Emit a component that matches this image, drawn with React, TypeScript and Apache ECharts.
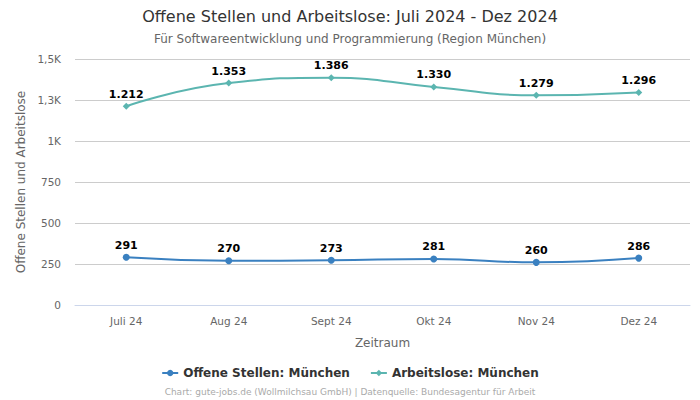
import React, { useEffect, useRef } from "react";
import * as echarts from "echarts";

const categories = ["Juli 24", "Aug 24", "Sept 24", "Okt 24", "Nov 24", "Dez 24"];
const offeneStellen = [291, 270, 273, 281, 260, 286];
const arbeitslose = [1212, 1353, 1386, 1330, 1279, 1296];
const yTicks = { min: 0, max: 1500, interval: 250 };

const FONT = "DejaVu Sans";

function fmtAxis(v: number): string {
  if (v >= 1000) {
    const k = Math.round((v / 1000) * 10) / 10;
    return String(k).replace(".", ",") + "K";
  }
  return String(v);
}

function fmtLabel(v: number): string {
  return v.toString().replace(/\B(?=(\d{3})+(?!\d))/g, ".");
}

export default function App() {
  const ref = useRef<HTMLDivElement>(null);
  useEffect(() => {
    if (!ref.current) return;
    const chart = echarts.init(ref.current, null, { renderer: "svg" });
    chart.setOption({
      animation: false,
      textStyle: { fontFamily: FONT },
      title: [
        {
          text: "Offene Stellen und Arbeitslose: Juli 2024 - Dez 2024",
          left: "center",
          top: 3,
          textStyle: { fontFamily: FONT, fontSize: 16, fontWeight: "normal", color: "#333" },
        },
        {
          text: "Für Softwareentwicklung und Programmierung (Region München)",
          left: "center",
          top: 28,
          textStyle: { fontFamily: FONT, fontSize: 12, fontWeight: "normal", color: "#666" },
        },
        {
          text: "Chart: gute-jobs.de (Wollmilchsau GmbH) | Datenquelle: Bundesagentur für Arbeit",
          left: "center",
          top: 381,
          textStyle: { fontFamily: FONT, fontSize: 9, fontWeight: "normal", color: "#aaa", lineHeight: 11 },
        },
      ],
      legend: {
        top: 362,
        left: "center",
        itemGap: 20,
        itemWidth: 16,
        itemHeight: 8,
        textStyle: { fontFamily: FONT, fontSize: 12, fontWeight: "bold", color: "#333" },
        data: ["Offene Stellen: München", "Arbeitslose: München"],
      },
      grid: { left: 75, right: 10, top: 59, bottom: 95, containLabel: false },
      xAxis: {
        type: "category",
        data: categories,
        boundaryGap: true,
        name: "Zeitraum",
        nameLocation: "middle",
        nameGap: 32,
        nameTextStyle: { fontFamily: FONT, fontSize: 12, color: "#666" },
        axisLine: { lineStyle: { color: "#ccd6eb" } },
        axisTick: { show: false },
        axisLabel: { fontFamily: FONT, fontSize: 10.5, color: "#666", margin: 10 },
      },
      yAxis: {
        type: "value",
        min: yTicks.min,
        max: yTicks.max,
        interval: yTicks.interval,
        name: "Offene Stellen und Arbeitslose",
        nameLocation: "middle",
        nameGap: 46,
        nameTextStyle: { fontFamily: FONT, fontSize: 12, color: "#666" },
        axisLine: { show: false },
        axisTick: { show: false },
        splitLine: { lineStyle: { color: "#cccccc" } },
        axisLabel: { fontFamily: FONT, fontSize: 10.5, color: "#666", margin: 14, formatter: fmtAxis },
      },
      series: [
        {
          name: "Offene Stellen: München",
          type: "line",
          smooth: true,
          data: offeneStellen,
          symbol: "circle",
          symbolSize: 7,
          color: "#3a80c0",
          lineStyle: { width: 2, color: "#3a80c0" },
          itemStyle: { color: "#3a80c0" },
          label: {
            show: true,
            position: "top",
            distance: 3,
            fontFamily: FONT,
            fontSize: 11,
            fontWeight: "bold",
            color: "#000",
            formatter: (p: any) => fmtLabel(p.value),
          },
        },
        {
          name: "Arbeitslose: München",
          type: "line",
          smooth: true,
          data: arbeitslose,
          symbol: "diamond",
          symbolSize: 7,
          color: "#5bb5b0",
          lineStyle: { width: 2, color: "#5bb5b0" },
          itemStyle: { color: "#5bb5b0" },
          label: {
            show: true,
            position: "top",
            distance: 3,
            fontFamily: FONT,
            fontSize: 11,
            fontWeight: "bold",
            color: "#000",
            formatter: (p: any) => fmtLabel(p.value),
          },
        },
      ],
    });
    return () => chart.dispose();
  }, []);
  return <div ref={ref} style={{ width: 700, height: 400, position: "absolute", left: 0, top: 0 }} />;
}
